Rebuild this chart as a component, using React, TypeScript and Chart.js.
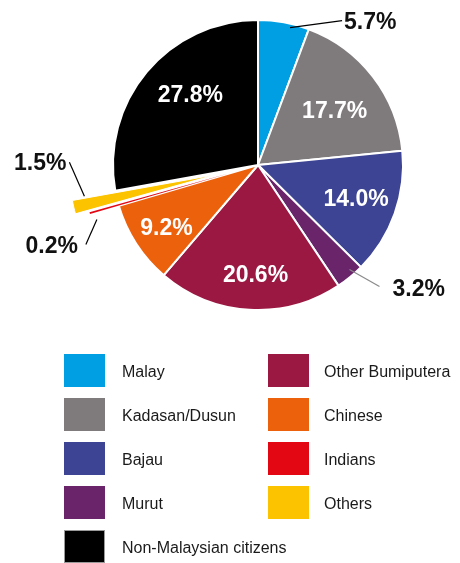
import { useEffect, useRef } from "react";
import { Chart, registerables, PieController, ArcElement } from "chart.js";

Chart.register(...registerables);

const categories = [
  "Malay",
  "Kadasan/Dusun",
  "Bajau",
  "Murut",
  "Other Bumiputera",
  "Chinese",
  "Indians",
  "Others",
  "Non-Malaysian citizens",
];
const shares = [5.7, 17.7, 14.0, 3.2, 20.6, 9.2, 0.2, 1.5, 27.8];
const valueLabels = ["5.7%", "17.7%", "14.0%", "3.2%", "20.6%", "9.2%", "0.2%", "1.5%", "27.8%"];
const sliceColors = [
  "#009FE3",
  "#7F7B7C",
  "#3C4493",
  "#6A2469",
  "#9B1842",
  "#EC610C",
  "#E30613",
  "#FCC300",
  "#000000",
];
const sliceExplode = [0, 0, 0, 0, 0, 0, 30, 44, 0];
const sliceBorders = [2, 2, 2, 2, 2, 2, 0, 1, 2];
const legendColumns = [
  ["Malay", "Kadasan/Dusun", "Bajau", "Murut", "Non-Malaysian citizens"],
  ["Other Bumiputera", "Chinese", "Indians", "Others"],
];

// Arc element that is pulled out of the pie by a pure translation (no narrowing)
class ExplodedArc extends ArcElement {
  static id = "explodedArc";
  draw(ctx: CanvasRenderingContext2D) {
    const self: any = this;
    const e = self.explode || 0;
    if (!e) {
      super.draw(ctx);
      return;
    }
    const mid = (self.startAngle + self.endAngle) / 2;
    ctx.save();
    ctx.translate(Math.cos(mid) * e, Math.sin(mid) * e);
    super.draw(ctx);
    ctx.restore();
  }
}

class ExplodedPieController extends PieController {
  static id = "explodedPie";
  static defaults = { dataElementType: "explodedArc" };
  updateElements(arcs: any[], start: number, count: number, mode: any) {
    super.updateElements(arcs as any, start, count, mode);
    const ds: any = this.getDataset();
    for (let i = start; i < start + count; i++) {
      if (arcs[i]) arcs[i].explode = ds.explode ? ds.explode[i] || 0 : 0;
    }
  }
}

Chart.register(ExplodedArc as any, ExplodedPieController as any);

type LabelSpec = {
  inside: boolean;
  rf: number;
  nx: number;
  ny: number;
  ex?: number;
  ey?: number;
  tx?: number;
  ty?: number;
  align?: CanvasTextAlign;
  line?: string;
};

const labelSpecs: LabelSpec[] = [
  { inside: false, rf: 0.97, nx: 7, ny: 1, ex: 52, ey: -7, tx: 2, ty: 0, align: "left", line: "#000000" },
  { inside: true, rf: 0.65, nx: 2, ny: 2 },
  { inside: true, rf: 0.71, nx: 1, ny: -2 },
  { inside: false, rf: 0.96, nx: 3, ny: -3, ex: 30, ey: 17, tx: 13, ty: 1, align: "left", line: "#8a8a8a" },
  { inside: true, rf: 0.75, nx: 4, ny: 0 },
  { inside: true, rf: 0.76, nx: 1, ny: 2 },
  { inside: false, rf: 1.17, nx: 2, ny: 8, ex: -11, ey: 25, tx: -8, ty: 0, align: "right", line: "#000000" },
  { inside: false, rf: 1.214, nx: -2, ny: -8, ex: -15, ey: -34, tx: -3, ty: 0, align: "right", line: "#000000" },
  { inside: true, rf: 0.68, nx: 8, ny: -8 },
];

const FONT = '"Liberation Sans", Arial, Helvetica, sans-serif';

const labelPlugin = {
  id: "sliceLabels",
  afterDatasetsDraw(chart: any) {
    const ctx: CanvasRenderingContext2D = chart.ctx;
    const meta = chart.getDatasetMeta(0);
    const size = 23;
    ctx.save();
    ctx.font = `bold ${size}px ${FONT}`;
    ctx.textBaseline = "alphabetic";
    meta.data.forEach((arc: any, i: number) => {
      const spec = labelSpecs[i];
      const { x, y, startAngle, endAngle, outerRadius } = arc.getProps(
        ["x", "y", "startAngle", "endAngle", "outerRadius"],
        true
      );
      const mid = (startAngle + endAngle) / 2;
      const r = outerRadius * spec.rf;
      const px = x + Math.cos(mid) * r + spec.nx;
      const py = y + Math.sin(mid) * r + spec.ny;
      const capShift = (0.716 * size) / 2;
      if (spec.inside) {
        ctx.fillStyle = "#ffffff";
        ctx.textAlign = "center";
        ctx.fillText(valueLabels[i], px, py + capShift);
      } else {
        const ex = px + (spec.ex || 0);
        const ey = py + (spec.ey || 0);
        ctx.strokeStyle = spec.line || "#000";
        ctx.lineWidth = 1.2;
        ctx.beginPath();
        ctx.moveTo(px, py);
        ctx.lineTo(ex, ey);
        ctx.stroke();
        ctx.fillStyle = "#111111";
        ctx.textAlign = spec.align || "left";
        ctx.fillText(valueLabels[i], ex + (spec.tx || 0), ey + (spec.ty || 0) + capShift);
      }
    });
    ctx.restore();
  },
};

const legendPlugin = {
  id: "columnLegend",
  afterDraw(chart: any) {
    const ctx: CanvasRenderingContext2D = chart.ctx;
    const labels: string[] = chart.data.labels;
    const colors: string[] = chart.data.datasets[0].backgroundColor;
    const colX = [64, 268];
    const textX = [122, 324];
    const top0 = 354;
    const step = 44;
    const sw = 41;
    const sh = 33;
    const fs = 16;
    ctx.save();
    ctx.font = `${fs}px ${FONT}`;
    ctx.textAlign = "left";
    ctx.textBaseline = "alphabetic";
    legendColumns.forEach((col, c) => {
      col.forEach((name, r) => {
        const idx = labels.indexOf(name);
        const top = top0 + r * step;
        ctx.fillStyle = colors[idx];
        ctx.fillRect(colX[c], top, sw, sh);
        if (colors[idx] === "#000000") {
          ctx.strokeStyle = "#9a9a9a";
          ctx.lineWidth = 1;
          ctx.strokeRect(colX[c] + 0.5, top + 0.5, sw - 1, sh - 1);
        }
        ctx.fillStyle = "#1a1a1a";
        ctx.fillText(name, textX[c], top + sh / 2 + 1 + (0.716 * fs) / 2);
      });
    });
    ctx.restore();
  },
};

export default function App() {
  const canvasRef = useRef<HTMLCanvasElement | null>(null);

  useEffect(() => {
    if (!canvasRef.current) return;
    const chart = new Chart(canvasRef.current, {
      type: "explodedPie" as any,
      data: {
        labels: categories,
        datasets: [
          {
            data: shares,
            explode: sliceExplode,
            backgroundColor: sliceColors,
            borderColor: "#ffffff",
            borderWidth: sliceBorders,
            hoverBorderWidth: sliceBorders,
            offset: 0,
            hoverOffset: 0,
            radius: 145,
          } as any,
        ],
      },
      options: {
        responsive: false,
        animation: false,
        events: [],
        layout: { padding: { left: 56, right: 0, top: 0, bottom: 233 } },
        plugins: {
          legend: { display: false },
          tooltip: { enabled: false },
        },
      } as any,
      plugins: [labelPlugin, legendPlugin],
    });
    return () => chart.destroy();
  }, []);

  return (
    <div style={{ position: "absolute", left: 0, top: 0, width: 460, height: 563, background: "#ffffff" }}>
      <canvas ref={canvasRef} width={460} height={563} style={{ display: "block" }} />
    </div>
  );
}
